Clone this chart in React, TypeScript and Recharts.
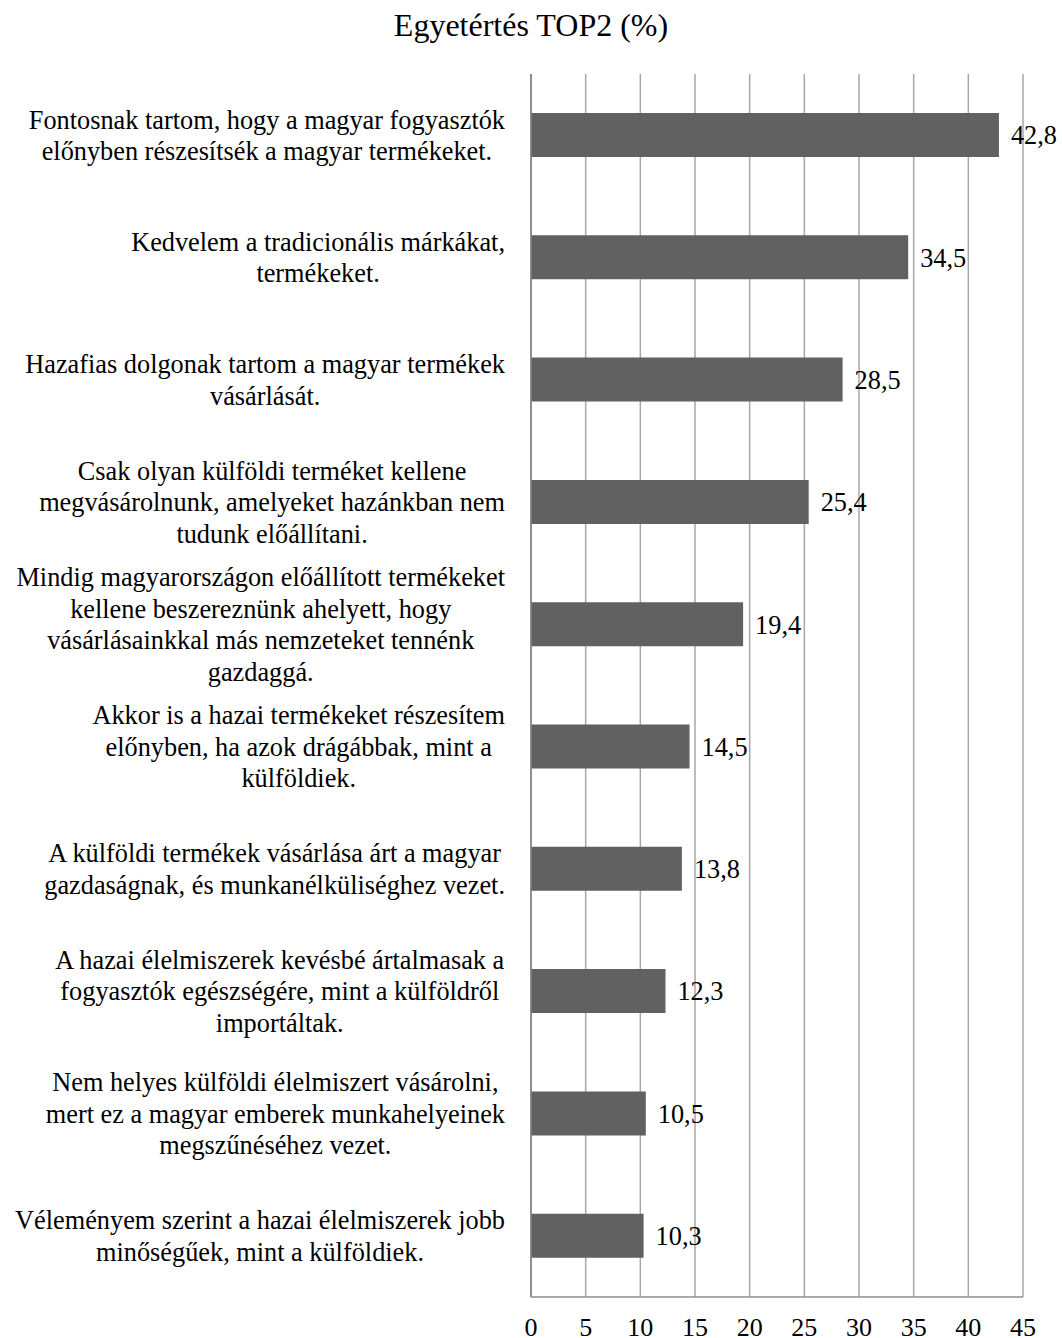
import React from 'react';
import { BarChart, Bar, XAxis, YAxis, CartesianGrid, LabelList } from 'recharts';

const title = 'Egyetértés TOP2 (%)';

const categories = [
  'Fontosnak tartom, hogy a magyar fogyasztók\nelőnyben részesítsék a magyar termékeket.',
  'Kedvelem a tradicionális márkákat,\ntermékeket.',
  'Hazafias dolgonak tartom a magyar termékek\nvásárlását.',
  'Csak olyan külföldi terméket kellene\nmegvásárolnunk, amelyeket hazánkban nem\ntudunk előállítani.',
  'Mindig magyarországon előállított termékeket\nkellene beszereznünk ahelyett, hogy\nvásárlásainkkal más nemzeteket tennénk\ngazdaggá.',
  'Akkor is a hazai termékeket részesítem\nelőnyben, ha azok drágábbak, mint a\nkülföldiek.',
  'A külföldi termékek vásárlása árt a magyar\ngazdaságnak, és munkanélküliséghez vezet.',
  'A hazai élelmiszerek kevésbé ártalmasak a\nfogyasztók egészségére, mint a külföldről\nimportáltak.',
  'Nem helyes külföldi élelmiszert vásárolni,\nmert ez a magyar emberek munkahelyeinek\nmegszűnéséhez vezet.',
  'Véleményem szerint a hazai élelmiszerek jobb\nminőségűek, mint a külföldiek.',
];

const values = [42.8, 34.5, 28.5, 25.4, 19.4, 14.5, 13.8, 12.3, 10.5, 10.3];

const xTicks = [0, 5, 10, 15, 20, 25, 30, 35, 40, 45];

const data = categories.map((name, i) => ({ name, value: values[i] }));

const FONT = "'Liberation Serif', 'Times New Roman', Times, serif";
const FS = 26.3;
const LH = 31.5;

let ctx: CanvasRenderingContext2D | null = null;
function measure(s: string): number {
  if (!ctx) ctx = document.createElement('canvas').getContext('2d');
  if (!ctx) return s.length * FS * 0.45;
  ctx.font = `${FS}px 'Liberation Serif'`;
  return ctx.measureText(s).width;
}

const CategoryTick = (props: any) => {
  const { x, y, payload } = props;
  const lines = String(payload.value).split('\n');
  const maxW = Math.max(...lines.map(measure));
  const cx = x - maxW / 2;
  const startY = y - ((lines.length - 1) * LH) / 2;
  return (
    <g>
      {lines.map((ln, i) => (
        <text
          key={i}
          x={cx}
          y={startY + i * LH}
          dy="0.35em"
          textAnchor="middle"
          fontFamily={FONT}
          fontSize={FS}
          fill="#000"
        >
          {ln}
        </text>
      ))}
    </g>
  );
};

const XTick = (props: any) => {
  const { x, y, payload } = props;
  return (
    <text x={x} y={y} dy="0.35em" textAnchor="middle" fontFamily={FONT} fontSize={26} fill="#000">
      {payload.value}
    </text>
  );
};

const fmt = (v: any) => String(v).replace('.', ',');

export default function App() {
  return (
    <div style={{ position: 'absolute', left: 0, top: 0, width: 1062, height: 1338, background: '#fff' }}>
      <div
        style={{
          position: 'absolute',
          left: 0,
          top: 7,
          width: 1062,
          textAlign: 'center',
          fontFamily: FONT,
          fontSize: 32,
          lineHeight: '36px',
          color: '#000',
        }}
      >
        {title}
      </div>
      <BarChart
        width={1062}
        height={1338}
        data={data}
        layout="vertical"
        margin={{ top: 74, right: 39, bottom: 0, left: 0 }}
      >
        <CartesianGrid horizontal={false} stroke="#a6a6a6" strokeWidth={1.5} />
        <XAxis
          type="number"
          domain={[0, 45]}
          ticks={xTicks}
          interval={0}
          height={41}
          axisLine={{ stroke: '#8c8c8c', strokeWidth: 1.5 }}
          tickLine={false}
          tickSize={0}
          tickMargin={30}
          tick={<XTick />}
        />
        <YAxis
          type="category"
          dataKey="name"
          width={531}
          axisLine={{ stroke: '#808080', strokeWidth: 1.5 }}
          tickLine={false}
          tickSize={0}
          tickMargin={26}
          interval={0}
          tick={<CategoryTick />}
        />
        <Bar dataKey="value" fill="#616161" barSize={44} isAnimationActive={false}>
          <LabelList
            dataKey="value"
            position="right"
            offset={12}
            formatter={fmt}
            fontFamily={FONT}
            fontSize={FS}
            fill="#000"
          />
        </Bar>
      </BarChart>
    </div>
  );
}
